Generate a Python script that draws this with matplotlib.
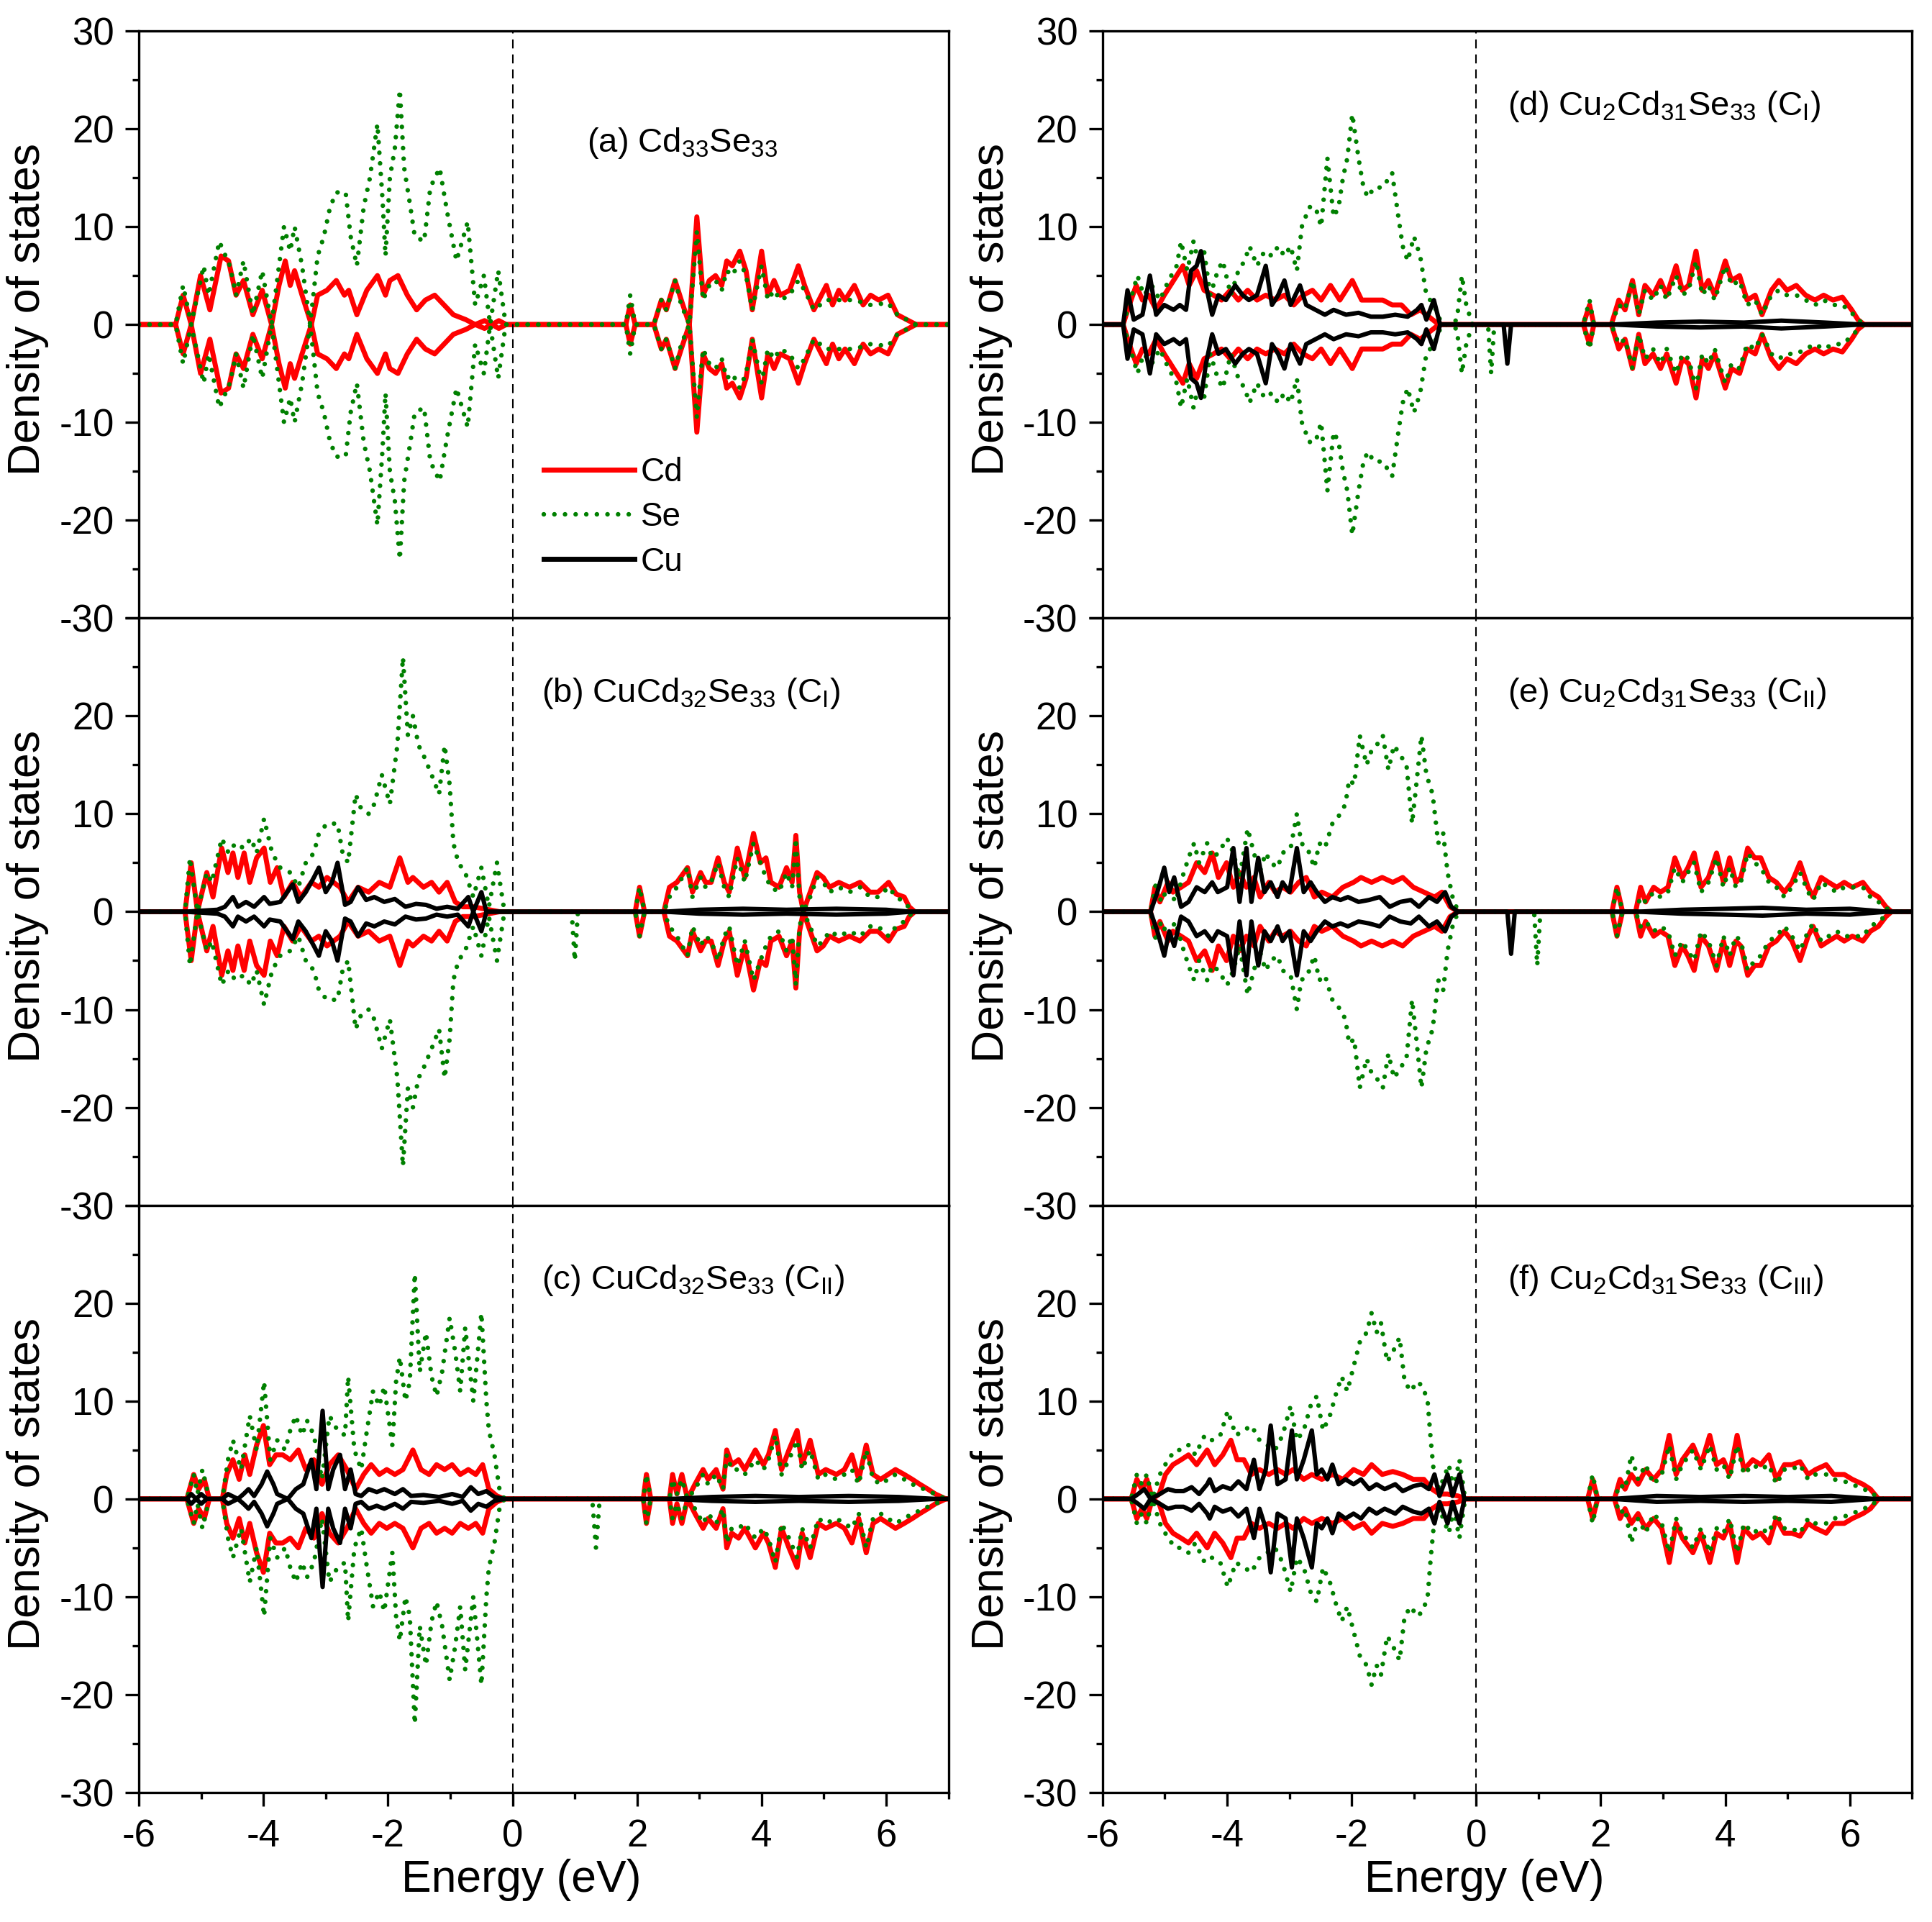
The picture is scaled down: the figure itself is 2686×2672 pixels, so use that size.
import numpy as np
import matplotlib
matplotlib.use('Agg')
import matplotlib.pyplot as plt
from matplotlib.lines import Line2D
from matplotlib.ticker import MultipleLocator

plt.rcParams['font.family'] = ['Liberation Sans', 'DejaVu Sans']
plt.rcParams['mathtext.default'] = 'regular'
plt.rcParams['axes.unicode_minus'] = False

# ---- data: (energy eV, DOS) pairs, spin-up magnitude ----
# spin-down is drawn as the mirror image; *_gap are spin-down-only gap states

# (a) Cd33Se33
cd_a_vb = [(-5.41,0),(-5.29,3),(-5.16,0),(-5.01,5),(-4.86,1.5),(-4.68,7),(-4.56,6.5),(-4.44,3),(-4.32,4.5),(-4.17,1),(-4.02,3.5),(-3.87,0),(-3.75,4),(-3.65,6.5),(-3.57,4),(-3.50,5.5),(-3.38,3),(-3.23,0),(-3.13,3),(-2.98,3.5),(-2.83,4.5),(-2.70,3),(-2.63,3.5),(-2.50,1),(-2.34,3.5),(-2.17,5),(-2.04,3),(-1.97,4.5),(-1.84,5),(-1.69,3),(-1.54,1.5),(-1.40,2.5),(-1.25,3),(-1.10,2),(-0.95,1),(-0.75,0.5),(-0.60,0),(-0.45,0.4),(-0.33,0),(-0.22,0.4),(-0.10,0)]
se_a_vb = [(-5.41,0),(-5.29,4),(-5.16,0),(-4.96,6),(-4.88,3),(-4.71,8.5),(-4.54,6),(-4.44,3),(-4.32,6.5),(-4.17,1),(-4.02,5.5),(-3.87,0),(-3.67,10),(-3.57,7.5),(-3.50,10),(-3.38,6),(-3.25,0),(-3.13,7),(-3.03,9),(-2.93,12),(-2.83,13.5),(-2.68,13.5),(-2.60,9),(-2.50,6),(-2.39,12),(-2.29,15),(-2.17,20.5),(-2.09,13),(-2.04,7),(-1.97,15),(-1.89,18),(-1.81,24),(-1.74,16),(-1.64,12),(-1.57,9),(-1.42,8.5),(-1.32,14),(-1.17,16),(-1.05,11.5),(-0.90,6.5),(-0.72,10.5),(-0.60,2),(-0.46,5),(-0.36,0),(-0.23,5.5),(-0.11,0)]
cd_a_cb = [(1.82,0),(1.89,2),(1.97,0),(2.27,0),(2.39,2.5),(2.47,1.5),(2.61,4.5),(2.71,2.5),(2.84,0),(2.96,11),(3.06,3),(3.16,4.5),(3.26,5),(3.36,4),(3.44,6.5),(3.53,6),(3.65,7.5),(3.75,5.5),(3.85,1.5),(4.00,7.5),(4.10,3),(4.20,4.5),(4.30,3),(4.45,3.5),(4.59,6),(4.69,4),(4.84,1.5),(5.04,4),(5.14,2),(5.24,3.5),(5.34,2.5),(5.49,4),(5.63,2),(5.75,3),(5.88,2.5),(6.03,3),(6.18,1),(6.33,0.5),(6.48,0)]
se_a_cb = [(1.82,0),(1.89,3),(1.97,0),(2.27,0),(2.39,2.5),(2.47,1.5),(2.61,4.5),(2.71,2),(2.84,0),(2.96,9.5),(3.06,2.5),(3.16,4),(3.26,4.5),(3.36,3.5),(3.44,5.5),(3.53,5),(3.65,6.5),(3.75,5),(3.85,1.5),(4.00,6),(4.10,2.5),(4.20,3.5),(4.30,2.5),(4.45,3),(4.59,4.5),(4.69,3.5),(4.84,1.5),(5.04,2.5),(5.24,2.5),(5.49,2.5),(5.75,2),(6.03,2.2),(6.18,1),(6.33,0.5),(6.48,0)]

# (b) CuCd32Se33 (CI)
cd_b_vb = [(-5.26,0),(-5.16,5),(-5.06,0),(-4.91,4),(-4.81,1.5),(-4.67,6.5),(-4.57,4),(-4.49,6),(-4.41,3.5),(-4.31,6),(-4.22,3),(-4.11,5.5),(-3.99,6.5),(-3.89,3),(-3.78,4.5),(-3.67,1.5),(-3.53,3),(-3.40,1.5),(-3.23,3),(-3.11,2.5),(-2.98,3.5),(-2.77,2.5),(-2.64,1),(-2.48,2.5),(-2.31,2),(-2.14,3),(-1.97,2.5),(-1.81,5.5),(-1.68,3),(-1.60,3.5),(-1.43,2.5),(-1.30,3),(-1.18,2),(-1.05,3),(-0.92,1),(-0.80,0.5),(-0.63,0.5),(-0.46,0.3),(-0.21,0)]
se_b_vb = [(-5.26,0),(-5.18,5.5),(-5.06,0),(-4.91,4),(-4.83,3),(-4.67,7.5),(-4.56,6),(-4.45,7),(-4.32,6.5),(-4.20,7.5),(-4.11,6),(-3.99,9.5),(-3.86,6),(-3.73,4.5),(-3.57,4),(-3.44,2.5),(-3.32,5),(-3.19,6),(-3.11,8),(-2.98,9),(-2.81,9),(-2.73,6),(-2.64,5),(-2.52,12),(-2.43,10.5),(-2.31,10),(-2.22,11),(-2.10,14),(-1.97,11),(-1.91,14),(-1.85,17),(-1.76,26),(-1.68,18),(-1.60,20),(-1.51,17),(-1.43,16),(-1.30,14),(-1.18,12),(-1.09,17),(-1.01,13),(-0.95,7),(-0.87,5),(-0.76,4),(-0.63,1.5),(-0.50,4.5),(-0.38,0.5),(-0.25,5),(-0.13,0)]
cu_b_vb = [(-5.26,0),(-4.74,0.2),(-4.62,0.5),(-4.49,1.5),(-4.41,0.5),(-4.28,1),(-4.15,0.5),(-3.99,1.5),(-3.90,0.8),(-3.73,1),(-3.53,2.8),(-3.44,1),(-3.32,2),(-3.19,3.5),(-3.11,4.5),(-3.00,2),(-2.90,3),(-2.81,5),(-2.69,0.7),(-2.60,1),(-2.48,2.5),(-2.35,1.2),(-2.22,1.5),(-2.06,1),(-1.89,1.3),(-1.72,0.5),(-1.55,0.8),(-1.39,0.7),(-1.22,0.3),(-1.05,0.5),(-0.88,0.3),(-0.71,1.5),(-0.63,0),(-0.50,2),(-0.42,0),(-0.21,0)]
cd_b_cb = [(1.97,0),(2.04,2.5),(2.12,0),(2.43,0),(2.52,2.5),(2.64,3),(2.81,4.5),(2.89,2),(3.02,4),(3.10,3),(3.19,3),(3.30,5.5),(3.40,3),(3.48,2),(3.61,6.5),(3.73,3.5),(3.87,8),(3.98,5),(4.07,5.5),(4.15,3),(4.28,2.5),(4.40,4.5),(4.49,3),(4.55,7.8),(4.61,2),(4.67,0),(4.78,2),(4.89,4),(4.99,3.5),(5.09,2.5),(5.24,3),(5.41,2.5),(5.58,3),(5.74,2),(5.87,2),(6.04,3),(6.16,1.8),(6.29,1.5),(6.37,0.5),(6.46,0)]
se_b_cb = [(1.97,0),(2.04,2.5),(2.12,0),(2.43,0),(2.52,1.5),(2.64,2.5),(2.81,4.5),(2.89,1.5),(3.02,3.5),(3.10,2.5),(3.19,3),(3.30,5),(3.40,2.5),(3.48,1.5),(3.61,5.5),(3.73,3),(3.87,7),(3.98,5),(4.07,3.5),(4.15,2.5),(4.28,2),(4.40,4),(4.49,2.5),(4.55,7.5),(4.61,1.5),(4.67,0),(4.78,1.5),(4.89,3.5),(4.99,3),(5.09,2),(5.24,2.5),(5.41,2),(5.58,2.5),(5.74,1.5),(5.87,1.5),(6.04,2.5),(6.16,1.5),(6.29,1),(6.37,0.4),(6.46,0)]
cu_b_cb = [(2.45,0),(3.0,0.2),(3.7,0.3),(4.4,0.2),(5.2,0.3),(6.0,0.2),(6.4,0)]
se_b_gap = [(0.95,0),(1.00,5),(1.05,0)]

# (c) CuCd32Se33 (CII)
cd_c_vb = [(-5.23,0),(-5.12,2.5),(-5.04,1),(-4.95,2),(-4.87,0),(-4.66,0),(-4.59,2.5),(-4.49,4),(-4.39,2),(-4.30,4.5),(-4.22,2.5),(-4.11,5.5),(-4.00,7.5),(-3.90,3.5),(-3.80,4.5),(-3.69,4.5),(-3.57,4),(-3.44,5),(-3.32,3),(-3.19,4),(-3.06,1.5),(-2.94,3.5),(-2.80,4.5),(-2.66,3),(-2.52,1),(-2.39,2.5),(-2.27,3.5),(-2.14,2.5),(-2.02,3),(-1.89,2.5),(-1.76,3),(-1.60,5),(-1.47,3),(-1.34,2.5),(-1.22,3.5),(-1.09,3),(-0.97,3.5),(-0.84,2.5),(-0.71,3),(-0.59,2.5),(-0.48,3.5),(-0.38,1),(-0.25,0.3),(-0.13,0)]
se_c_vb = [(-5.23,0),(-5.12,2.5),(-5.06,0.5),(-4.98,3),(-4.87,0),(-4.66,0),(-4.57,4),(-4.49,6),(-4.36,3),(-4.22,8.5),(-4.11,5),(-3.99,12),(-3.89,4),(-3.78,6),(-3.65,5),(-3.57,7),(-3.48,8.5),(-3.38,6.5),(-3.30,8),(-3.19,6.5),(-3.06,2),(-2.94,8.5),(-2.81,7),(-2.69,6.5),(-2.64,12.5),(-2.54,5),(-2.43,3),(-2.35,6.5),(-2.24,11),(-2.14,9.5),(-2.06,11.5),(-1.93,5.5),(-1.87,12),(-1.81,14.5),(-1.72,10),(-1.65,12),(-1.57,23),(-1.49,13),(-1.39,17),(-1.30,12.5),(-1.22,10.5),(-1.13,13),(-1.01,18.5),(-0.92,15),(-0.84,11),(-0.76,17.5),(-0.63,10),(-0.50,19),(-0.42,10),(-0.38,7),(-0.29,4.5),(-0.21,1),(-0.13,0)]
cu_c_vb = [(-5.23,0),(-5.16,0.5),(-5.08,0),(-5.00,0.5),(-4.91,0),(-4.66,0),(-4.57,0.5),(-4.41,0),(-4.32,0.5),(-4.24,1),(-4.15,0.3),(-4.03,1.5),(-3.94,2.8),(-3.84,1.5),(-3.78,0.5),(-3.61,0),(-3.48,1),(-3.36,1.5),(-3.23,4),(-3.15,1),(-3.05,9),(-2.96,1),(-2.88,3),(-2.77,4.5),(-2.69,1),(-2.60,3),(-2.52,0.5),(-2.43,0.3),(-2.31,1),(-2.18,0.7),(-2.06,1),(-1.89,0.5),(-1.76,1),(-1.63,0.3),(-1.43,0.4),(-1.18,0.2),(-0.97,0.5),(-0.80,0.2),(-0.67,1.2),(-0.55,0.5),(-0.42,0.8),(-0.29,0.2),(-0.13,0)]
cd_c_cb = [(2.10,0),(2.15,2.5),(2.22,0),(2.52,0),(2.57,2.5),(2.64,0.5),(2.72,2.5),(2.81,0),(2.93,1.5),(3.06,3),(3.14,2),(3.27,3),(3.38,1),(3.44,5),(3.52,3.5),(3.63,4),(3.73,3),(3.90,5),(4.03,3.5),(4.11,4.5),(4.22,7),(4.32,3),(4.44,5),(4.57,7),(4.65,3.5),(4.78,6),(4.91,2.5),(5.03,3),(5.20,2.5),(5.33,3),(5.45,4.5),(5.56,2),(5.68,5.5),(5.79,2.5),(5.91,2),(6.15,3),(6.29,2.5),(6.42,2),(6.54,1.5),(6.67,1),(6.79,0.5),(6.96,0)]
se_c_cb = [(2.10,0),(2.15,2.5),(2.22,0),(2.52,0),(2.57,2),(2.64,0.5),(2.72,2),(2.81,0),(2.93,1),(3.06,2.5),(3.14,1.5),(3.27,2.5),(3.38,1),(3.44,4.5),(3.52,3),(3.63,3),(3.73,2.5),(3.90,4),(4.03,3),(4.11,4),(4.22,6.5),(4.32,2.5),(4.44,4),(4.57,6),(4.65,3),(4.78,5),(4.91,2),(5.03,2.5),(5.20,2),(5.33,2.5),(5.45,3),(5.56,1.5),(5.68,5),(5.79,2),(5.91,1.5),(6.15,2.5),(6.29,2),(6.42,1.5),(6.54,1.2),(6.67,0.8),(6.79,0.5),(6.96,0)]
cu_c_cb = [(2.55,0),(3.2,0.2),(3.9,0.3),(4.6,0.2),(5.4,0.3),(6.2,0.2),(6.8,0)]
se_c_gap = [(1.28,0),(1.34,5),(1.40,0)]

# (d) Cu2Cd31Se33 (CI)
cd_d_vb = [(-5.67,0),(-5.57,2),(-5.46,4),(-5.36,2.5),(-5.26,3),(-5.14,1.5),(-5.01,3),(-4.86,4.5),(-4.71,6),(-4.61,4),(-4.49,5.5),(-4.37,3.5),(-4.22,3),(-4.09,2.5),(-3.95,3.5),(-3.82,2.5),(-3.67,3.5),(-3.52,2.5),(-3.38,3),(-3.23,2.5),(-3.08,3),(-2.93,2),(-2.78,3),(-2.63,3.5),(-2.49,2.5),(-2.34,4),(-2.19,2.5),(-1.99,4.5),(-1.84,2.5),(-1.69,2.5),(-1.50,2.5),(-1.35,2),(-1.20,2),(-1.05,1),(-0.90,1.5),(-0.70,0.5),(-0.60,0)]
se_d_vb = [(-5.67,0),(-5.53,3),(-5.44,5),(-5.34,3),(-5.21,4),(-5.08,2.5),(-4.94,4.5),(-4.81,6),(-4.74,8.5),(-4.64,5.5),(-4.54,8.5),(-4.45,6),(-4.37,7.5),(-4.27,3),(-4.15,5.5),(-4.07,6.5),(-3.94,3),(-3.82,5.5),(-3.72,6.5),(-3.64,8),(-3.52,6),(-3.40,7.5),(-3.28,7),(-3.18,8),(-3.08,7),(-2.98,8),(-2.88,5.5),(-2.80,10),(-2.68,12),(-2.58,12),(-2.49,10),(-2.39,17),(-2.29,11),(-2.21,12),(-2.14,15),(-2.07,17),(-1.99,21.5),(-1.89,17),(-1.81,14),(-1.74,13),(-1.64,14),(-1.50,14),(-1.35,15.5),(-1.25,11),(-1.18,8),(-1.10,6.5),(-1.00,9),(-0.90,7),(-0.80,3),(-0.68,2),(-0.55,0),(-0.41,0),(-0.31,0.5),(-0.23,5),(-0.16,2),(-0.06,0)]
cu_d_vb = [(-5.67,0),(-5.60,3.5),(-5.50,0.5),(-5.36,1),(-5.24,5),(-5.14,1),(-5.01,2),(-4.86,1.5),(-4.76,2),(-4.66,1.5),(-4.58,5.5),(-4.49,6),(-4.42,7.5),(-4.34,4),(-4.24,1),(-4.14,3),(-4.02,2.5),(-3.87,4),(-3.75,3),(-3.65,2.5),(-3.52,3),(-3.38,6),(-3.28,2),(-3.18,3),(-3.08,4.5),(-2.98,2),(-2.83,4),(-2.73,2),(-2.58,1.5),(-2.43,1),(-2.29,1.5),(-2.09,1),(-1.89,1.2),(-1.69,0.8),(-1.50,0.8),(-1.30,1),(-1.10,0.8),(-0.95,1.5),(-0.88,2),(-0.80,0.5),(-0.68,2.5),(-0.58,0)]
cd_d_cb = [(1.72,0),(1.82,2),(1.89,0),(2.17,0),(2.29,2.5),(2.39,1.5),(2.51,4.5),(2.61,1),(2.71,4),(2.84,3),(2.96,4.5),(3.06,3),(3.21,6),(3.31,3.5),(3.41,4),(3.53,7.5),(3.63,3.5),(3.73,4.5),(3.83,3),(4.00,6.5),(4.10,4.5),(4.23,5),(4.35,2.5),(4.48,3),(4.59,1),(4.74,3.5),(4.86,4.5),(4.99,3.5),(5.14,4),(5.29,3),(5.44,2.5),(5.58,3),(5.73,2.5),(5.88,2.8),(6.03,1.5),(6.13,0.5),(6.23,0)]
se_d_cb = [(1.72,0),(1.82,2.5),(1.89,0),(2.17,0),(2.29,2),(2.39,1.5),(2.51,4.5),(2.61,1),(2.71,3.5),(2.84,2.5),(2.96,4),(3.06,2.5),(3.21,5),(3.31,3),(3.41,3.5),(3.53,6.5),(3.63,3),(3.73,4),(3.83,2.5),(4.00,6),(4.10,4),(4.23,4.5),(4.35,2),(4.48,2.5),(4.59,1),(4.74,3),(4.86,3.5),(4.99,3),(5.14,3),(5.29,2.5),(5.44,2),(5.58,2.5),(5.73,2),(5.88,2),(6.03,1.2),(6.13,0.5),(6.23,0)]
cu_d_cb = [(2.2,0),(2.9,0.2),(3.6,0.3),(4.3,0.2),(4.9,0.4),(5.6,0.2),(6.2,0)]
se_d_gap = [(0.19,0),(0.24,5),(0.29,0)]
cu_d_gap = [(0.44,0),(0.50,4),(0.56,0)]

# (e) Cu2Cd31Se33 (CII)
cd_e_vb = [(-5.23,0),(-5.16,2.5),(-5.08,1),(-4.95,3),(-4.87,2),(-4.74,2.5),(-4.62,3),(-4.49,5),(-4.36,4),(-4.24,6),(-4.14,3.5),(-4.01,5),(-3.90,2.5),(-3.80,4),(-3.69,2.5),(-3.57,3.5),(-3.47,1.5),(-3.33,3),(-3.23,2),(-3.11,2.5),(-2.98,2),(-2.85,3),(-2.73,3.5),(-2.60,1.5),(-2.48,2),(-2.31,1.5),(-2.14,2.5),(-1.97,3),(-1.85,3.5),(-1.68,3),(-1.51,3.5),(-1.34,3),(-1.18,3.5),(-1.01,2.5),(-0.84,2),(-0.67,1.5),(-0.55,2),(-0.42,0.5),(-0.29,0)]
se_e_vb = [(-5.23,0),(-5.14,3),(-5.06,1),(-4.95,2.5),(-4.83,1),(-4.72,3.5),(-4.62,5.5),(-4.53,7),(-4.45,5),(-4.32,7),(-4.24,5.5),(-4.14,6),(-4.00,7.5),(-3.90,6),(-3.80,3.5),(-3.67,8.5),(-3.57,6),(-3.48,4),(-3.38,6),(-3.30,5),(-3.19,4.5),(-3.11,6),(-2.98,6.5),(-2.88,10),(-2.81,7),(-2.71,6.5),(-2.60,4.5),(-2.52,7),(-2.43,6.5),(-2.31,9),(-2.18,10),(-2.10,11),(-2.04,13.5),(-1.96,13),(-1.87,18),(-1.76,15),(-1.68,16.5),(-1.60,17),(-1.50,18),(-1.41,14.5),(-1.32,17),(-1.22,16),(-1.12,15),(-1.03,9),(-0.97,12.5),(-0.88,18),(-0.80,14),(-0.70,12),(-0.61,7),(-0.53,8),(-0.46,4),(-0.38,1.5),(-0.29,0)]
cu_e_vb = [(-5.23,0),(-5.12,2),(-5.01,4.5),(-4.93,2),(-4.85,3.5),(-4.74,0.5),(-4.62,1),(-4.49,2.5),(-4.36,2),(-4.24,3),(-4.15,2),(-4.00,2.5),(-3.90,6.5),(-3.80,1),(-3.69,6.5),(-3.61,1),(-3.50,5.5),(-3.40,2),(-3.30,3),(-3.19,1.5),(-3.11,3),(-3.00,2),(-2.88,6.5),(-2.77,2),(-2.66,3),(-2.56,2),(-2.43,1),(-2.31,1.5),(-2.18,1.2),(-2.06,1.5),(-1.89,1),(-1.72,1.2),(-1.55,1.5),(-1.39,0.5),(-1.22,1),(-1.05,1.2),(-0.92,0.5),(-0.76,1.5),(-0.63,1),(-0.50,2),(-0.40,0.5),(-0.29,0)]
cd_e_cb = [(2.18,0),(2.26,2.5),(2.35,0),(2.56,0),(2.64,2.5),(2.72,1),(2.85,2.5),(2.96,2),(3.08,2.5),(3.19,5.5),(3.31,3.5),(3.40,4.5),(3.50,6),(3.61,2.5),(3.73,3.5),(3.86,6),(3.97,3),(4.07,5.5),(4.17,3),(4.25,3.5),(4.36,6.5),(4.47,5.5),(4.57,5.5),(4.70,3.5),(4.82,3),(4.95,2),(5.07,3),(5.20,5),(5.33,2.5),(5.41,1.5),(5.54,3.5),(5.66,3),(5.79,2.5),(5.91,3),(6.04,2.5),(6.21,3),(6.33,2),(6.46,1.5),(6.58,0.5),(6.67,0)]
se_e_cb = [(2.18,0),(2.26,2.5),(2.35,0),(2.56,0),(2.64,1.5),(2.72,1),(2.85,2),(2.96,1.5),(3.08,2),(3.19,4.5),(3.31,3),(3.40,4),(3.50,5),(3.61,2),(3.73,3),(3.86,5.5),(3.97,2.5),(4.07,4.5),(4.17,2.5),(4.25,3),(4.36,6),(4.47,5),(4.57,4.5),(4.70,3),(4.82,2.5),(4.95,1.5),(5.07,2.5),(5.20,4),(5.33,2),(5.41,1.2),(5.54,3),(5.66,2.5),(5.79,2),(5.91,2.5),(6.04,2.5),(6.21,2.5),(6.33,1.5),(6.46,1),(6.58,0.4),(6.67,0)]
cu_e_cb = [(2.6,0),(3.3,0.2),(4.0,0.3),(4.6,0.4),(5.3,0.2),(6.0,0.3),(6.6,0)]
se_e_gap = [(0.93,0),(0.98,5.5),(1.03,0)]
cu_e_gap = [(0.50,0),(0.56,4.3),(0.62,0)]

# (f) Cu2Cd31Se33 (CIII)
cd_f_vb = [(-5.54,0),(-5.45,2),(-5.37,1),(-5.29,2),(-5.20,0),(-5.09,0.5),(-4.99,2.5),(-4.87,3.5),(-4.74,4),(-4.62,4.5),(-4.49,3.5),(-4.32,5),(-4.20,3.5),(-4.07,4.5),(-3.94,6),(-3.84,4),(-3.73,4),(-3.61,2.5),(-3.48,3),(-3.33,2.5),(-3.19,3),(-3.06,2.5),(-2.94,3),(-2.77,2),(-2.64,2.5),(-2.48,2),(-2.31,2.5),(-2.14,2),(-1.97,3),(-1.81,2.5),(-1.68,3.5),(-1.51,2.5),(-1.34,2.8),(-1.18,2.5),(-1.01,2),(-0.84,2),(-0.71,1),(-0.59,0.5),(-0.46,0.5),(-0.29,0.3),(-0.17,0)]
se_f_vb = [(-5.54,0),(-5.45,2.5),(-5.37,1.5),(-5.29,2.5),(-5.20,0),(-5.08,2.5),(-4.95,4),(-4.83,5),(-4.74,5),(-4.62,5.5),(-4.51,4.5),(-4.36,6.5),(-4.24,6),(-4.11,6.5),(-3.99,9),(-3.86,6.5),(-3.73,7),(-3.61,7.5),(-3.48,6),(-3.36,5.5),(-3.23,5),(-3.11,6.5),(-2.98,9.5),(-2.88,6),(-2.77,7),(-2.66,9.5),(-2.56,10.5),(-2.46,7),(-2.35,8.5),(-2.24,11),(-2.16,12.5),(-2.07,11),(-1.97,13.5),(-1.87,16),(-1.76,17),(-1.68,19),(-1.60,17),(-1.53,18),(-1.43,14),(-1.34,15),(-1.23,16.5),(-1.15,12),(-1.05,11),(-0.95,12),(-0.86,11.5),(-0.78,10),(-0.73,6),(-0.67,2),(-0.59,1),(-0.50,2.5),(-0.44,3.5),(-0.36,1),(-0.27,4),(-0.19,0.5),(-0.13,0)]
cu_f_vb = [(-5.54,0),(-5.43,0.5),(-5.33,1),(-5.23,0),(-5.08,0.5),(-4.95,1),(-4.83,0.8),(-4.70,0.8),(-4.57,1.2),(-4.45,0.5),(-4.32,1.5),(-4.28,2),(-4.20,0.8),(-4.07,1.3),(-3.94,1),(-3.82,1.8),(-3.69,1),(-3.57,4),(-3.48,1),(-3.38,3),(-3.30,7.5),(-3.19,1.5),(-3.06,2),(-2.96,7),(-2.88,2),(-2.77,4),(-2.64,7),(-2.56,2.5),(-2.48,3),(-2.39,2),(-2.31,3.5),(-2.21,1.5),(-2.10,2),(-1.97,1.5),(-1.85,2),(-1.72,1),(-1.60,1.5),(-1.47,1),(-1.30,1.5),(-1.18,0.8),(-1.01,1.3),(-0.88,1.5),(-0.76,1),(-0.67,2.5),(-0.59,0.3),(-0.46,2.5),(-0.38,0.3),(-0.27,2.5),(-0.19,0)]
cd_f_cb = [(1.79,0),(1.87,2),(1.95,0),(2.22,0),(2.31,2),(2.39,1),(2.49,2.5),(2.60,1.5),(2.72,3),(2.85,2),(2.98,3),(3.10,6.5),(3.21,2.5),(3.31,4),(3.48,5.5),(3.61,3.5),(3.75,6.5),(3.86,3.5),(3.97,4),(4.07,2.5),(4.19,6.5),(4.30,3),(4.44,4),(4.57,3.5),(4.70,4.5),(4.82,2),(4.95,3.5),(5.07,3.5),(5.20,3.8),(5.33,2.5),(5.45,3),(5.62,3.5),(5.74,2.5),(5.91,2.5),(6.04,2),(6.21,1.5),(6.33,1),(6.46,0)]
se_f_cb = [(1.79,0),(1.87,2.5),(1.95,0),(2.22,0),(2.31,1.5),(2.39,1),(2.49,4.5),(2.60,2),(2.72,3.5),(2.85,1.5),(2.98,2.5),(3.10,5.5),(3.21,2),(3.31,3.5),(3.48,5),(3.61,3),(3.75,5.5),(3.86,3),(3.97,3.5),(4.07,2),(4.19,5.5),(4.30,2.5),(4.44,3.5),(4.57,3),(4.70,3.5),(4.82,1.5),(4.95,3),(5.07,3),(5.20,3.5),(5.33,2),(5.45,2.5),(5.62,2.5),(5.74,2),(5.91,1.8),(6.04,1.5),(6.21,1),(6.33,0.8),(6.46,0)]
cu_f_cb = [(2.2,0),(2.9,0.3),(3.6,0.2),(4.3,0.3),(5.0,0.2),(5.7,0.3),(6.4,0)]

labels = ['(a) Cd$_{33}$Se$_{33}$',
          '(b) CuCd$_{32}$Se$_{33}$ (C$_{I}$)',
          '(c) CuCd$_{32}$Se$_{33}$ (C$_{II}$)',
          '(d) Cu$_{2}$Cd$_{31}$Se$_{33}$ (C$_{I}$)',
          '(e) Cu$_{2}$Cd$_{31}$Se$_{33}$ (C$_{II}$)',
          '(f) Cu$_{2}$Cd$_{31}$Se$_{33}$ (C$_{III}$)']

panels = [
    dict(cd=(cd_a_vb, cd_a_cb), se=(se_a_vb, se_a_cb), cu=None, se_gap=None, cu_gap=None),
    dict(cd=(cd_b_vb, cd_b_cb), se=(se_b_vb, se_b_cb), cu=(cu_b_vb, cu_b_cb), se_gap=se_b_gap, cu_gap=None),
    dict(cd=(cd_c_vb, cd_c_cb), se=(se_c_vb, se_c_cb), cu=(cu_c_vb, cu_c_cb), se_gap=se_c_gap, cu_gap=None),
    dict(cd=(cd_d_vb, cd_d_cb), se=(se_d_vb, se_d_cb), cu=(cu_d_vb, cu_d_cb), se_gap=se_d_gap, cu_gap=cu_d_gap),
    dict(cd=(cd_e_vb, cd_e_cb), se=(se_e_vb, se_e_cb), cu=(cu_e_vb, cu_e_cb), se_gap=se_e_gap, cu_gap=cu_e_gap),
    dict(cd=(cd_f_vb, cd_f_cb), se=(se_f_vb, se_f_cb), cu=(cu_f_vb, cu_f_cb), se_gap=None, cu_gap=None),
]
label_pos = [(1.2, 18.5), (0.47, 22.3), (0.47, 22.3), (0.5, 22.3), (0.5, 22.3), (0.5, 22.3)]

RED = '#ff0000'
GREEN = '#008000'
LW_CD = 5.0
LW_SE = 4.6
LW_CU = 4.4
FS_TICK = 38
FS_LAB = 45
FS_TXT = 34


def curve(bands, gap=None):
    vb, cb = bands
    pts = [(-6.0, 0.0)] + list(vb) + (list(gap) if gap else []) + list(cb) + [(7.0, 0.0)]
    arr = np.array(pts, dtype=float)
    return arr[:, 0], arr[:, 1]


def draw(ax, bands, gap, **kw):
    e, v = curve(bands)
    ax.plot(e, v, **kw)
    e, v = curve(bands, gap)
    ax.plot(e, -v, **kw)


fig = plt.figure(figsize=(26.86, 26.72), dpi=100)

lefts = [0.0719, 0.5707]
width = 0.4190
height = 0.3055
bottoms = [0.6784, 0.3729, 0.06737]

se_style = dict(color=GREEN, lw=LW_SE, linestyle=(0, (0.01, 2.3)), dash_capstyle='round')

for i, p in enumerate(panels):
    col, row = divmod(i, 3)
    ax = fig.add_axes([lefts[col], bottoms[row], width, height])

    draw(ax, p['cd'], None, color=RED, lw=LW_CD, solid_joinstyle='round')
    draw(ax, p['se'], p['se_gap'], **se_style)
    if p['cu'] is not None:
        draw(ax, p['cu'], p['cu_gap'], color='black', lw=LW_CU, solid_joinstyle='round')

    ax.axvline(0, color='black', lw=1.5, linestyle=(0, (6, 4)))

    ax.set_xlim(-6, 7)
    ax.set_ylim(-30, 30)
    ax.yaxis.set_minor_locator(MultipleLocator(5))
    ax.xaxis.set_major_locator(MultipleLocator(2))
    ax.xaxis.set_minor_locator(MultipleLocator(1))
    ax.tick_params(axis='both', which='major', direction='out', length=14, width=2.4,
                   labelsize=FS_TICK, top=False, right=False)
    ax.tick_params(axis='both', which='minor', direction='out', length=6.5, width=2.4,
                   top=False, right=False)
    ax.tick_params(axis='y', which='major', pad=11)
    ax.tick_params(axis='x', which='major', pad=12)

    if row < 2:
        ax.tick_params(axis='x', which='both', bottom=False, labelbottom=False)
    else:
        ax.set_xlabel('Energy (eV)', fontsize=FS_LAB, labelpad=4)
        ax.xaxis.label.set_x(0.472)

    yt = [-30, -20, -10, 0, 10, 20, 30]
    ax.set_yticks(yt)
    if row == 0:
        ax.set_yticklabels([str(t) for t in yt])
    else:
        ax.set_yticklabels([str(t) for t in yt[:-1]] + [''])

    ax.set_ylabel('Density of states', fontsize=FS_LAB, labelpad=10)
    ax.yaxis.label.set_y(0.526)
    for s in ax.spines.values():
        s.set_linewidth(2.4)

    ax.text(label_pos[i][0], label_pos[i][1], labels[i], fontsize=FS_TXT, va='center', ha='left')

    if i == 0:
        handles = [Line2D([], [], color=RED, lw=LW_CD),
                   Line2D([], [], **se_style),
                   Line2D([], [], color='black', lw=LW_CD)]
        ax.legend(handles, ['Cd', 'Se', 'Cu'], loc='upper left', bbox_to_anchor=(0.50, 0.275),
                  frameon=False, fontsize=FS_TXT - 1, handlelength=2.75, handletextpad=0.2,
                  labelspacing=0.4, borderpad=0, borderaxespad=0)

fig.savefig('out.png', dpi=100)
